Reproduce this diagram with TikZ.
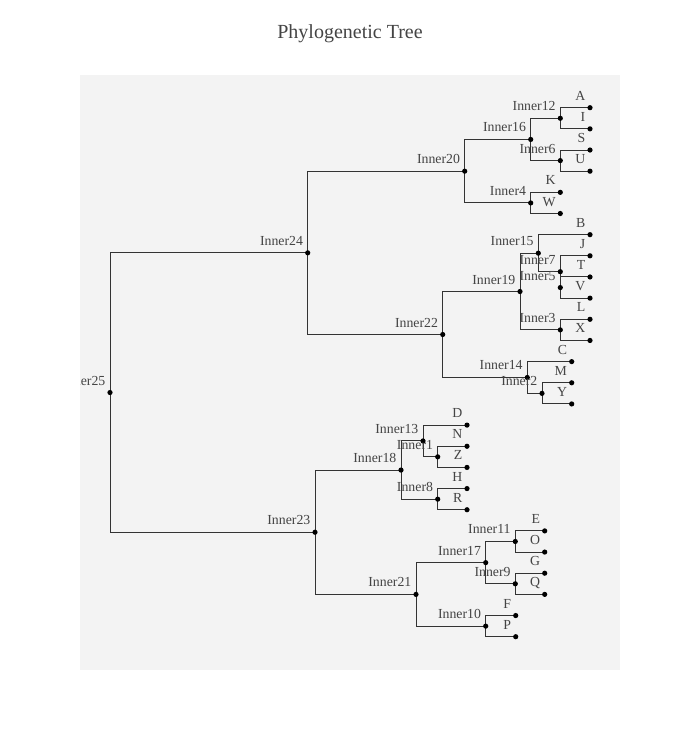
\documentclass[tikz,border=0pt]{standalone}
\usepackage{fontspec}
\setmainfont{Liberation Serif}
\definecolor{plotbg}{HTML}{F3F3F3}
\definecolor{linec}{HTML}{333333}
\definecolor{textc}{HTML}{444444}
\newcommand\tnode[4]{\coordinate (#1) at (#2,#3); \coordinate (L#1) at (#2-4.5,#3-7.5);}
\begin{document}
\begin{tikzpicture}[x=1pt,y=-1pt,
  edge/.style={draw=linec,line width=1pt},
  lab/.style={anchor=base east,inner sep=0pt,text=textc,font=\fontsize{13.8}{14}\selectfont},
  dotc/.style={fill=black}]
\useasboundingbox (0,0) rectangle (700,750);
\fill[white] (0,0) rectangle (700,750);
\fill[plotbg] (80,75) rectangle (620,670);
\node[anchor=base,inner sep=0pt,text=textc,font=\fontsize{20}{20}\selectfont] (title) at (350,38.3) {Phylogenetic Tree};
% leaves
\tnode{A}{590}{107.70}{}
\tnode{I}{590}{128.86}{}
\tnode{S}{590}{150.02}{}
\tnode{U}{590}{171.18}{}
\tnode{K}{560.3}{192.34}{}
\tnode{W}{560.3}{213.50}{}
\tnode{B}{590}{234.66}{}
\tnode{J}{590}{255.82}{}
\tnode{T}{590}{276.98}{}
\tnode{V}{590}{298.14}{}
\tnode{Lf}{590}{319.30}{}
\tnode{X}{590}{340.46}{}
\tnode{C}{571.7}{361.62}{}
\tnode{M}{571.7}{382.78}{}
\tnode{Y}{571.7}{403.94}{}
\tnode{D}{467}{425.10}{}
\tnode{N}{467}{446.26}{}
\tnode{Z}{467}{467.42}{}
\tnode{H}{467}{488.58}{}
\tnode{R}{467}{509.74}{}
\tnode{E}{544.7}{530.90}{}
\tnode{O}{544.7}{552.06}{}
\tnode{G}{544.7}{573.22}{}
\tnode{Q}{544.7}{594.38}{}
\tnode{F}{515.7}{615.54}{}
\tnode{P}{515.7}{636.70}{}
% internal nodes
\tnode{i12}{560.3}{118.28}{}
\tnode{i6}{560.3}{160.60}{}
\tnode{i16}{530.7}{139.44}{}
\tnode{i4}{530.7}{202.92}{}
\tnode{i20}{464.7}{171.18}{}
\tnode{i5}{560.3}{287.56}{}
\tnode{i7}{560.3}{271.69}{}
\tnode{i15}{538.3}{253.175}{}
\tnode{i3}{560.3}{329.88}{}
\tnode{i19}{520}{291.53}{}
\tnode{i2}{542}{393.36}{}
\tnode{i14}{527.3}{377.49}{}
\tnode{i22}{442.7}{334.51}{}
\tnode{i24}{307.7}{252.85}{}
\tnode{i1}{437.7}{456.84}{}
\tnode{i13}{423}{440.97}{}
\tnode{i8}{437.7}{499.16}{}
\tnode{i18}{401}{470.07}{}
\tnode{i11}{515.3}{541.48}{}
\tnode{i9}{515.3}{583.80}{}
\tnode{i17}{485.7}{562.64}{}
\tnode{i10}{485.7}{626.12}{}
\tnode{i21}{416}{594.38}{}
\tnode{i23}{315}{532.23}{}
\tnode{i25}{110}{392.54}{}
% edges
\foreach \p/\c in {i12/A,i12/I,i6/S,i6/U,i16/i12,i16/i6,i4/K,i4/W,i20/i16,i20/i4,
  i5/T,i5/V,i7/J,i7/i5,i15/B,i15/i7,i3/Lf,i3/X,i19/i15,i19/i3,i2/M,i2/Y,i14/C,i14/i2,
  i22/i19,i22/i14,i24/i20,i24/i22,i1/N,i1/Z,i13/D,i13/i1,i8/H,i8/R,i18/i13,i18/i8,
  i11/E,i11/O,i9/G,i9/Q,i17/i11,i17/i9,i10/F,i10/P,i21/i17,i21/i10,i23/i18,i23/i21,
  i25/i24,i25/i23}
  \draw[edge] (\p) |- (\c);
% dots
\foreach \n in {A,I,S,U,K,W,B,J,T,V,Lf,X,C,M,Y,D,N,Z,H,R,E,O,G,Q,F,P,
  i12,i6,i16,i4,i20,i5,i7,i15,i3,i19,i2,i14,i22,i24,i1,i13,i8,i18,i11,i9,i17,i10,i21,i23,i25}
  \fill[dotc] (\n) circle (2.6);
% labels
\begin{scope}
\clip (80,75) rectangle (620,670);
\foreach \n/\t in {A/A,I/I,S/S,U/U,K/K,W/W,B/B,J/J,T/T,V/V,Lf/L,X/X,C/C,M/M,Y/Y,D/D,N/N,Z/Z,H/H,R/R,E/E,O/O,G/G,Q/Q,F/F,P/P,
  i12/Inner12,i6/Inner6,i16/Inner16,i4/Inner4,i20/Inner20,i5/Inner5,i7/Inner7,i15/Inner15,i3/Inner3,i19/Inner19,
  i2/Inner2,i14/Inner14,i22/Inner22,i24/Inner24,i1/Inner1,i13/Inner13,i8/Inner8,i18/Inner18,i11/Inner11,i9/Inner9,
  i17/Inner17,i10/Inner10,i21/Inner21,i23/Inner23,i25/Inner25}
  \node[lab] (t\n) at (L\n) {\t};
\end{scope}
\end{tikzpicture}
\end{document}
